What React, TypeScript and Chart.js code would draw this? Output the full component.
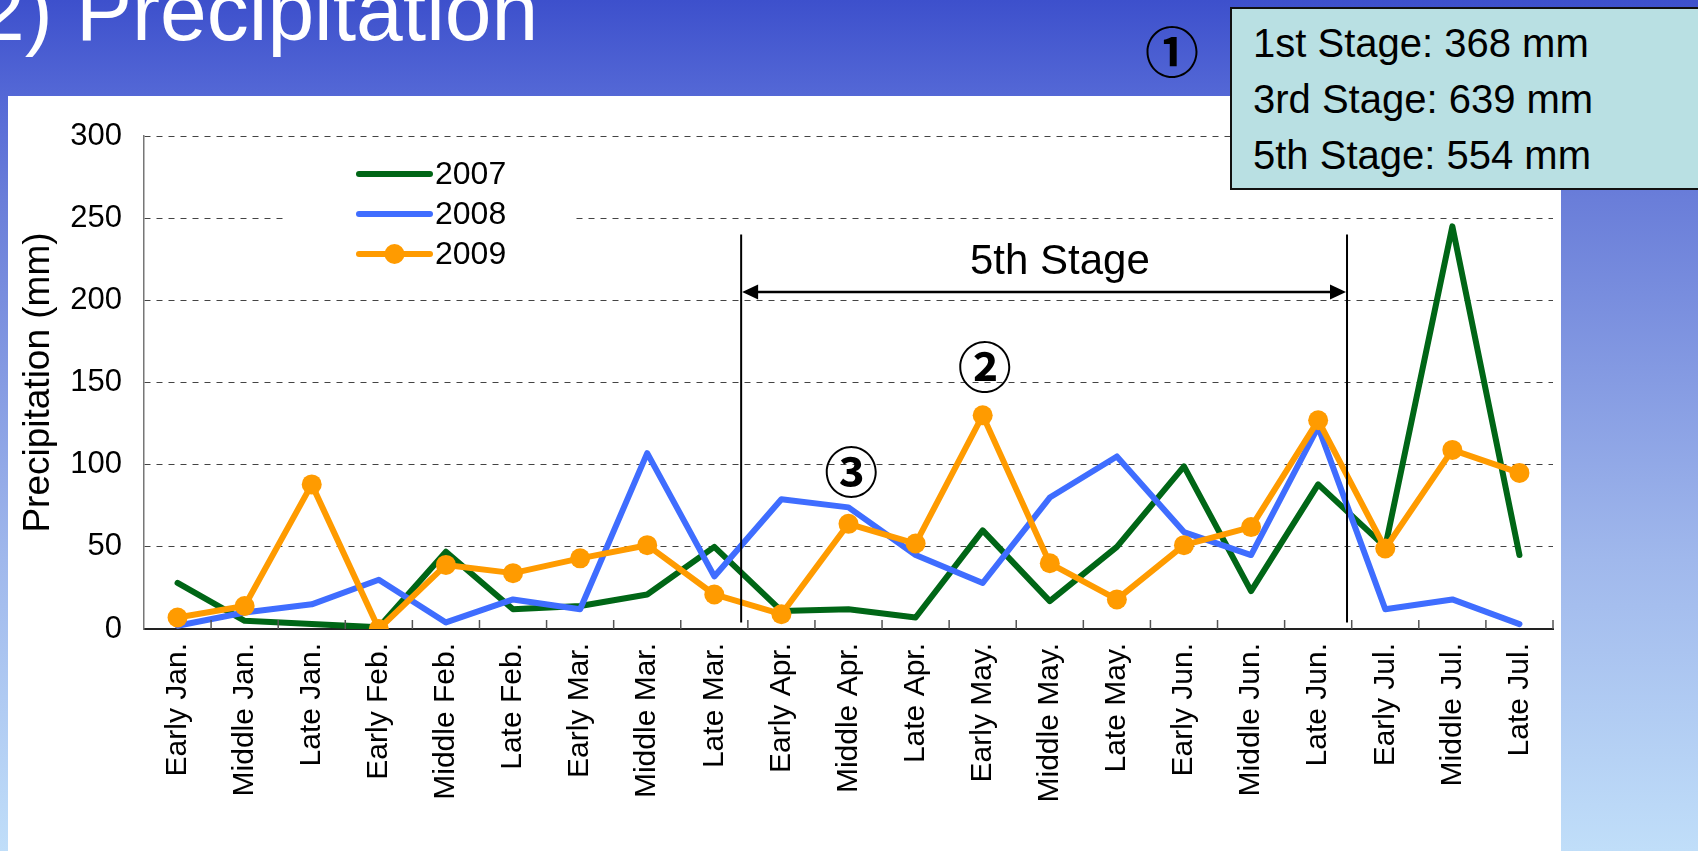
import React, { useEffect, useRef } from "react";
import { Chart, registerables } from "chart.js";

Chart.register(...registerables);

const FONT = "'Liberation Sans', Arial, sans-serif";
const CJK = "'Noto Sans CJK JP', 'DejaVu Sans', sans-serif";

const categories = [
  "Early Jan.", "Middle Jan.", "Late Jan.",
  "Early Feb.", "Middle Feb.", "Late Feb.",
  "Early Mar.", "Middle Mar.", "Late Mar.",
  "Early Apr.", "Middle Apr.", "Late Apr.",
  "Early May.", "Middle May.", "Late May.",
  "Early Jun.", "Middle Jun.", "Late Jun.",
  "Early Jul.", "Middle Jul.", "Late Jul.",
];

const seriesNames = ["2007", "2008", "2009"];
const values2007 = [28, 5, 3, 1, 47, 12, 14, 21, 50, 11, 12, 7, 60, 17, 50, 99, 23, 88, 50, 245, 45];
const values2008 = [2, 10, 15, 30, 4, 18, 12, 107, 32, 79, 74, 45, 28, 80, 105, 59, 45, 123, 12, 18, 3];
const values2009 = [7, 14, 88, 0, 39, 34, 43, 51, 21, 9, 64, 52, 130, 40, 18, 51, 62, 127, 49, 109, 95];

const seriesColors = ["#006616", "#3F6DFF", "#FF9B00"];

const yMin = 0;
const yMax = 300;
const yStep = 50;

const titleText = "2) Precipitation";
const yTitle = "Precipitation (mm)";
const stageSummary = ["1st Stage: 368 mm", "3rd Stage: 639 mm", "5th Stage: 554 mm"];
const stageLabel = "5th Stage";
// fractional category positions of the stage boundaries, and value extents
const stageBounds = [8.4, 17.43];
const stageLineRange = [4, 240];
const stageArrowValue = 205;
const stageLabelPos = [13.15, 216];
const circledNotes = [
  { text: "②", pos: 12.03, value: 159 },
  { text: "③", pos: 10.04, value: 95.5 },
];

const overlayPlugin = {
  id: "overlay",
  beforeDatasetsDraw(chart: any) {
    const { ctx, chartArea: ca } = chart;
    ctx.save();
    ctx.fillStyle = "#ffffff";
    ctx.fillRect(ca.left + 143, ca.top + 14, 285, 130);
    chart.data.datasets.forEach((ds: any, i: number) => {
      const y = ca.top + 38 + i * 40;
      const x1 = ca.left + 215;
      const x2 = ca.left + 286;
      ctx.strokeStyle = ds.borderColor;
      ctx.lineWidth = 6;
      ctx.lineCap = "round";
      ctx.beginPath();
      ctx.moveTo(x1, y);
      ctx.lineTo(x2, y);
      ctx.stroke();
      if (ds.pointRadius > 0) {
        ctx.fillStyle = ds.pointBackgroundColor;
        ctx.beginPath();
        ctx.arc((x1 + x2) / 2, y, ds.pointRadius, 0, Math.PI * 2);
        ctx.fill();
      }
      ctx.fillStyle = "#000";
      ctx.font = `32px ${FONT}`;
      ctx.textAlign = "left";
      ctx.textBaseline = "middle";
      ctx.fillText(ds.label, x2 + 5, y + 1);
    });
    ctx.restore();
  },
  afterDatasetsDraw(chart: any) {
    const { ctx, chartArea: ca, scales } = chart;
    const xs = scales.x;
    const ys = scales.y;
    const step = xs.getPixelForValue(1) - xs.getPixelForValue(0);
    const posX = (p: number) => xs.getPixelForValue(0) + p * step;
    ctx.save();
    // inward tick marks at category boundaries
    ctx.strokeStyle = "#555";
    ctx.lineWidth = 1.5;
    for (let i = 0; i < categories.length; i++) {
      const xb = posX(i + 0.5);
      ctx.beginPath();
      ctx.moveTo(xb, ca.bottom);
      ctx.lineTo(xb, ca.bottom - 9);
      ctx.stroke();
    }
    // stage lines
    ctx.strokeStyle = "#000";
    ctx.lineWidth = 2;
    const yTop = ys.getPixelForValue(stageLineRange[1]);
    const yBot = ys.getPixelForValue(stageLineRange[0]);
    const xa = posX(stageBounds[0]);
    const xb = posX(stageBounds[1]);
    [xa, xb].forEach((x) => {
      ctx.beginPath();
      ctx.moveTo(x, yTop);
      ctx.lineTo(x, yBot);
      ctx.stroke();
    });
    // arrow
    const ay = ys.getPixelForValue(stageArrowValue);
    const head = 16;
    const hh = 7.5;
    ctx.lineWidth = 2.5;
    ctx.beginPath();
    ctx.moveTo(xa + head - 2, ay);
    ctx.lineTo(xb - head + 2, ay);
    ctx.stroke();
    ctx.fillStyle = "#000";
    ctx.beginPath();
    ctx.moveTo(xa + 1, ay);
    ctx.lineTo(xa + 1 + head, ay - hh);
    ctx.lineTo(xa + 1 + head, ay + hh);
    ctx.closePath();
    ctx.fill();
    ctx.beginPath();
    ctx.moveTo(xb - 1, ay);
    ctx.lineTo(xb - 1 - head, ay - hh);
    ctx.lineTo(xb - 1 - head, ay + hh);
    ctx.closePath();
    ctx.fill();
    // stage label
    ctx.font = `42px ${FONT}`;
    ctx.textAlign = "center";
    ctx.textBaseline = "alphabetic";
    ctx.fillText(stageLabel, posX(stageLabelPos[0]), ys.getPixelForValue(stageLabelPos[1]));
    // circled notes
    ctx.font = `bold 54px ${CJK}`;
    ctx.textBaseline = "middle";
    circledNotes.forEach((n) => {
      ctx.fillText(n.text, posX(n.pos), ys.getPixelForValue(n.value));
    });
    ctx.restore();
  },
};

export default function App() {
  const canvasRef = useRef<HTMLCanvasElement | null>(null);

  useEffect(() => {
    if (!canvasRef.current) return;
    const all = [values2007, values2008, values2009];
    const chart = new Chart(canvasRef.current, {
      type: "line",
      data: {
        labels: categories,
        datasets: seriesNames.map((name, i) => ({
          label: name,
          data: all[i],
          borderColor: seriesColors[i],
          backgroundColor: seriesColors[i],
          borderWidth: 6,
          tension: 0,
          fill: false,
          borderCapStyle: "round",
          borderJoinStyle: "round",
          pointRadius: i === 2 ? 10 : 0,
          pointHoverRadius: i === 2 ? 10 : 0,
          pointBackgroundColor: seriesColors[i],
          pointBorderColor: seriesColors[i],
          pointBorderWidth: 0,
          order: 2 - i,
        })),
      },
      options: {
        animation: false,
        responsive: false,
        events: [],
        layout: { padding: { left: 0, top: 136, right: 145, bottom: 0 } },
        plugins: {
          legend: { display: false },
          tooltip: { enabled: false },
          title: { display: false },
        },
        scales: {
          x: {
            type: "category",
            offset: true,
            grid: { display: false, drawTicks: false },
            border: { display: true, color: "#222", width: 2 },
            ticks: {
              autoSkip: false,
              minRotation: 90,
              maxRotation: 90,
              padding: 14,
              color: "#000",
              font: { family: FONT, size: 30 },
            },
            afterFit(s: any) {
              s.height = 222;
            },
          },
          y: {
            min: yMin,
            max: yMax,
            ticks: {
              stepSize: yStep,
              padding: 22,
              color: "#000",
              font: { family: FONT, size: 31 },
            },
            grid: { color: "#444", lineWidth: 1, drawTicks: false },
            border: { display: true, color: "#777", width: 1.5, dash: [6, 6] },
            title: {
              display: true,
              text: yTitle,
              color: "#000",
              font: { family: FONT, size: 37 },
              padding: { top: 17, bottom: 0 },
            },
            afterFit(s: any) {
              s.width = 144;
            },
          },
        },
      },
      plugins: [overlayPlugin],
    } as any);
    return () => chart.destroy();
  }, []);

  return (
    <div
      style={{
        position: "fixed",
        left: 0,
        top: 0,
        width: 1698,
        height: 851,
        overflow: "hidden",
        background:
          "linear-gradient(to bottom, #3D50CC 0px, #5468D6 96px, #6A7ED9 200px, #A0B8EC 560px, #C0DEF9 851px)",
        fontFamily: FONT,
      }}
    >
      <div
        style={{
          position: "absolute",
          left: 8,
          top: 96,
          width: 1553,
          height: 755,
          background: "#ffffff",
        }}
      />
      <div
        style={{
          position: "absolute",
          left: -22,
          top: -30,
          fontSize: 84,
          lineHeight: "83px",
          color: "#ffffff",
          whiteSpace: "nowrap",
          fontFamily: FONT,
        }}
      >
        {titleText}
      </div>
      <canvas
        ref={canvasRef}
        width={1698}
        height={851}
        style={{ position: "absolute", left: 0, top: 0, width: 1698, height: 851 }}
      />
      <div
        style={{
          position: "absolute",
          left: 1122,
          top: 0,
          width: 100,
          height: 100,
          display: "flex",
          alignItems: "center",
          justifyContent: "center",
          fontSize: 54,
          fontWeight: "bold",
          fontFamily: CJK,
          color: "#000",
          lineHeight: 1,
        }}
      >
        ①
      </div>
      <div
        style={{
          position: "absolute",
          left: 1230,
          top: 7,
          width: 520,
          height: 183,
          boxSizing: "border-box",
          background: "#B9E0E3",
          border: "2px solid #111",
        }}
      >
        <div
          style={{
            position: "absolute",
            left: 21,
            top: 6,
            fontSize: 40,
            lineHeight: "56px",
            color: "#000",
            whiteSpace: "nowrap",
            fontFamily: FONT,
          }}
        >
          {stageSummary.map((s) => (
            <div key={s}>{s}</div>
          ))}
        </div>
      </div>
    </div>
  );
}
